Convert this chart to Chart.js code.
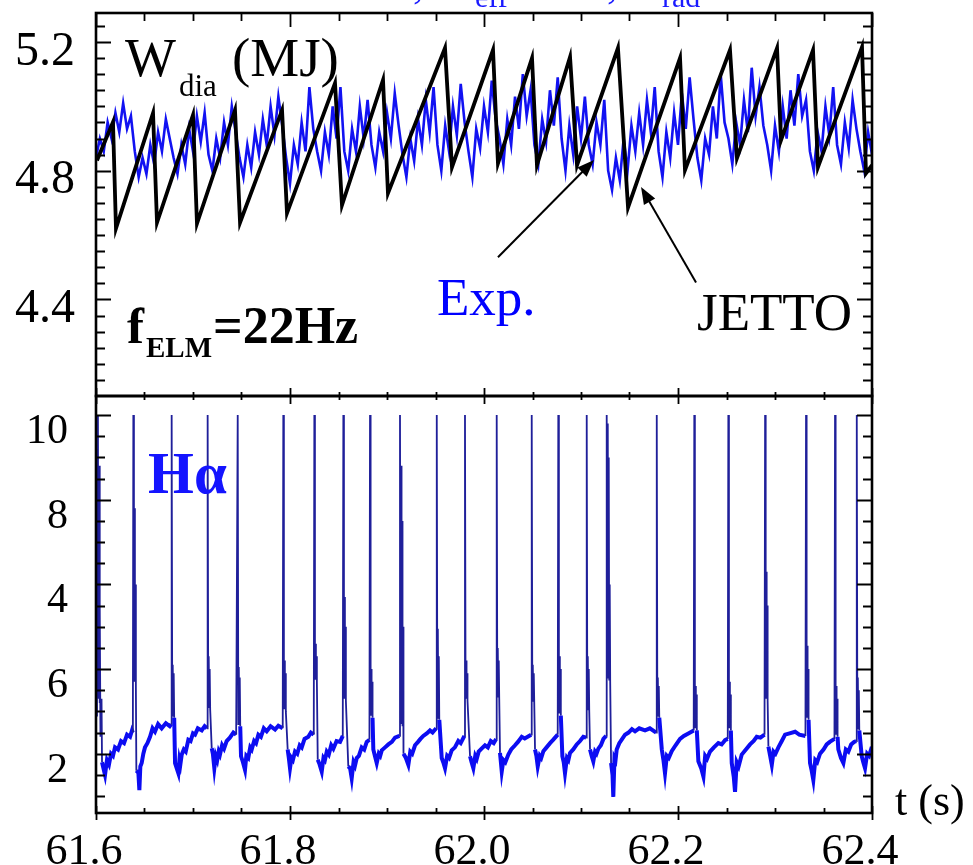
<!DOCTYPE html>
<html>
<head>
<meta charset="utf-8">
<script src="https://cdn.jsdelivr.net/npm/chart.js@4.4.1/dist/chart.umd.min.js"></script>
<style>
  html, body { margin: 0; padding: 0; background: #fff; }
  #wrap { position: relative; width: 973px; height: 865px; overflow: hidden; background: #fff; }
  #wrap canvas { position: absolute; left: 0; }
  #wdiaChart { top: 0; }
  #halphaChart { top: 380px; }
</style>
</head>
<body>
<div id="wrap">
  <canvas id="wdiaChart" width="973" height="410"></canvas>
  <canvas id="halphaChart" width="973" height="485"></canvas>
</div>
<script>
// JETTO diamagnetic energy: corners of the simulated ELM sawtooth (s, MJ)
const jettoTime = [61.6010, 61.6175, 61.6206, 61.6588, 61.6629, 61.7000, 61.7041, 61.7433, 61.7485,
  61.7918, 61.7969, 61.8464, 61.8536, 61.8959, 61.9010, 61.9598, 61.9670, 62.0093, 62.0144,
  62.0495, 62.0546, 62.0887, 62.0959, 62.1381, 62.1485, 62.2021, 62.2072, 62.2536, 62.2608,
  62.3021, 62.3062, 62.3392, 62.3443, 62.3897, 62.3938, 62.4000];
const jettoWdia = [4.832, 4.951, 4.621, 4.979, 4.639, 4.973, 4.636, 4.988, 4.639,
  4.988, 4.668, 5.072, 4.693, 5.082, 4.730, 5.181, 4.811, 5.175, 4.823,
  5.150, 4.817, 5.153, 4.817, 5.181, 4.686, 5.150, 4.802, 5.175, 4.839,
  5.181, 4.895, 5.175, 4.811, 5.184, 4.792, 4.817];

// measured W_dia, one sample every 4 ms from 61.600 s (MJ)
const expStart = 61.6;
const expStep = 0.004;
const expWdia = [
  4.84, 4.90, 4.86, 4.95, 4.90, 4.98, 4.92, 5.01, 4.93, 4.97,
  4.86, 4.78, 4.84, 4.79, 4.88, 4.82, 4.92, 4.86, 4.96, 4.90,
  4.84, 4.79, 4.88, 4.82, 4.93, 4.86, 4.97, 4.89, 4.98,
  4.85, 4.80, 4.90, 4.84, 4.95, 4.88, 5.00, 4.92,
  4.84, 4.78, 4.88, 4.81, 4.92, 4.85, 4.96, 4.88, 5.00, 4.91, 5.03, 4.94,
  4.84, 4.76, 4.88, 4.82, 4.95, 4.86, 5.06, 4.93,
  4.86, 4.80, 4.92, 4.85, 5.00, 4.90, 5.06,
  4.86, 4.80, 4.93, 4.86, 5.00, 4.90, 5.02,
  4.88, 4.81, 4.92, 4.86, 4.98, 4.90, 5.04, 4.94,
  4.85, 4.78, 4.90, 4.83, 4.96, 4.88, 5.02, 4.92, 5.06,
  4.88, 4.80, 4.94, 4.86, 5.00, 4.91, 5.07, 4.95,
  4.86, 4.78, 4.93, 4.87, 5.00, 4.92, 5.08, 4.96,
  4.90, 4.82, 4.96, 4.88, 5.03, 4.93, 5.10, 4.97, 5.05,
  4.88, 4.82, 4.96, 4.89, 5.05, 4.94, 5.09,
  4.90, 4.80, 4.94, 4.85, 5.00, 4.90, 5.03,
  4.88, 4.82, 4.95, 4.88, 5.02,
  4.80, 4.74, 4.84, 4.77, 4.90, 4.80, 4.94, 4.86, 4.98, 4.88, 5.02, 4.92, 5.06,
  4.86, 4.78, 4.92, 4.84, 4.98, 4.88, 5.04, 4.93, 5.09, 4.96,
  4.84, 4.77, 4.90, 4.85, 5.00, 4.90, 5.10, 4.95,
  4.90, 4.82, 4.95, 4.88, 5.02, 4.92, 5.12, 4.97, 5.06, 4.94,
  4.88, 4.80, 4.94, 4.86, 5.00, 4.90, 5.05, 4.94, 5.10, 4.97, 5.02,
  4.86, 4.80, 4.92, 4.86, 5.00, 4.91, 5.06,
  4.88, 4.82, 4.95, 4.87, 5.02, 4.93,
  4.86, 4.80, 4.92, 4.85
];

// H-alpha signal, [time (s), value], one row per ELM
const halphaTrace = [
  [61.6000,2.9],[61.6010,9.2],[61.6015,3.4],[61.6020,10],[61.6025,3.3],[61.6031,8.8],[61.6036,3.2],[61.6041,5.5],[61.6046,2.4],[61.6057,3.3],[61.6062,1.8],[61.6093,1.5],[61.6113,1.85],[61.6134,1.75],[61.6155,2.0],[61.6175,1.95],[61.6196,2.15],[61.6227,2.1],[61.6258,2.3],[61.6289,2.25],[61.6320,2.45],[61.6351,2.4],[61.6371,2.55],[61.6380,2.5],
  [61.6385,10],[61.6391,3.7],[61.6396,7.8],[61.6401,3.7],[61.6406,6.0],[61.6411,3.6],[61.6416,1.6],[61.6437,1.55],[61.6447,1.14],[61.6457,1.7],[61.6471,1.78],[61.6488,2.0],[61.6505,2.15],[61.6530,2.25],[61.6557,2.4],[61.6583,2.6],[61.6608,2.52],[61.6640,2.7],[61.6677,2.6],[61.6720,2.72],[61.6760,2.65],[61.6776,2.7],
  [61.6780,10],[61.6786,2.9],[61.6791,4.1],[61.6796,2.9],[61.6801,3.9],[61.6806,2.85],[61.6815,1.78],[61.6849,1.54],[61.6860,1.85],[61.6870,1.75],[61.6884,1.98],[61.6905,2.1],[61.6925,2.05],[61.6952,2.33],[61.6975,2.3],[61.7000,2.48],[61.7021,2.45],[61.7050,2.6],[61.7090,2.55],[61.7120,2.65],[61.7145,2.6],
  [61.7151,10],[61.7157,3.1],[61.7162,4.3],[61.7167,3.1],[61.7172,4.0],[61.7177,3.05],[61.7193,2.13],[61.7205,2.0],[61.7220,1.66],[61.7235,1.95],[61.7250,1.85],[61.7265,2.05],[61.7278,1.98],[61.7300,2.2],[61.7320,2.12],[61.7347,2.3],[61.7380,2.38],[61.7416,2.5],[61.7445,2.45],
  [61.7461,10],[61.7467,2.7],[61.7472,4.05],[61.7477,2.7],[61.7482,3.8],[61.7487,2.65],[61.7495,1.94],[61.7515,1.8],[61.7536,1.62],[61.7550,1.95],[61.7570,1.9],[61.7590,2.15],[61.7605,2.1],[61.7630,2.3],[61.7650,2.25],[61.7674,2.45],[61.7700,2.4],[61.7730,2.6],[61.7760,2.53],[61.7800,2.65],[61.7846,2.57],[61.7880,2.66],[61.7925,2.6],
  [61.7931,10],[61.7937,3.05],[61.7942,4.2],[61.7947,3.05],[61.7952,3.9],[61.7957,3.0],[61.7976,2.1],[61.7988,1.9],[61.8000,1.66],[61.8015,1.9],[61.8030,1.85],[61.8052,2.05],[61.8075,2.0],[61.8100,2.2],[61.8121,2.15],[61.8150,2.35],[61.8189,2.4],[61.8215,2.5],[61.8245,2.45],
  [61.8251,10],[61.8257,3.75],[61.8262,4.6],[61.8267,3.75],[61.8272,4.3],[61.8277,3.7],[61.8286,1.86],[61.8305,1.75],[61.8327,1.58],[61.8345,1.9],[61.8360,1.85],[61.8379,2.05],[61.8400,1.98],[61.8425,2.2],[61.8447,2.12],[61.8480,2.3],[61.8516,2.28],[61.8544,2.42],
  [61.8550,10],[61.8556,3.3],[61.8561,5.7],[61.8566,3.3],[61.8571,5.0],[61.8576,3.25],[61.8601,1.70],[61.8620,1.65],[61.8636,1.42],[61.8655,1.8],[61.8670,1.72],[61.8688,1.9],[61.8710,1.95],[61.8739,2.15],[61.8765,2.1],[61.8791,2.28],[61.8819,2.33],
  [61.8825,10],[61.8831,2.9],[61.8836,4.0],[61.8841,2.9],[61.8846,3.7],[61.8851,2.85],[61.8859,2.1],[61.8875,1.95],[61.8894,1.78],[61.8915,2.0],[61.8930,1.95],[61.8946,2.08],[61.8980,2.15],[61.9014,2.22],[61.9050,2.28],[61.9083,2.38],[61.9128,2.42],
  [61.9134,10],[61.9140,2.7],[61.9145,8.8],[61.9150,2.7],[61.9155,7.5],[61.9160,2.65],[61.9165,5.0],[61.9170,2.0],[61.9195,1.9],[61.9220,1.74],[61.9240,2.05],[61.9260,2.0],[61.9289,2.2],[61.9320,2.28],[61.9345,2.35],[61.9374,2.42],[61.9410,2.48],[61.9443,2.55],[61.9470,2.5],[61.9507,2.6],
  [61.9513,10],[61.9519,2.85],[61.9524,4.95],[61.9529,2.85],[61.9534,4.3],[61.9539,2.8],[61.9564,1.90],[61.9580,1.8],[61.9598,1.66],[61.9620,1.95],[61.9640,1.9],[61.9667,2.08],[61.9700,2.15],[61.9735,2.3],[61.9760,2.25],[61.9798,2.42],
  [61.9804,10],[61.9810,3.3],[61.9815,4.2],[61.9820,3.3],[61.9825,3.9],[61.9830,3.25],[61.9856,1.94],[61.9872,1.8],[61.9890,1.66],[61.9910,1.95],[61.9925,1.88],[61.9945,2.05],[61.9975,2.12],[62.0010,2.2],[62.0040,2.15],[62.0070,2.3],[62.0100,2.25],[62.0125,2.35],
  [62.0131,10],[62.0137,3.35],[62.0142,4.5],[62.0147,3.35],[62.0152,4.2],[62.0157,3.3],[62.0165,2.02],[62.0183,1.58],[62.0200,1.85],[62.0220,1.8],[62.0251,1.98],[62.0280,2.1],[62.0320,2.2],[62.0350,2.28],[62.0389,2.4],[62.0420,2.36],[62.0486,2.45],
  [62.0492,10],[62.0498,3.25],[62.0503,4.1],[62.0508,3.25],[62.0513,3.9],[62.0518,3.2],[62.0526,2.1],[62.0540,1.95],[62.0554,1.70],[62.0575,1.95],[62.0590,1.9],[62.0612,2.06],[62.0645,2.15],[62.0681,2.25],[62.0710,2.32],[62.0760,2.45],
  [62.0766,10],[62.0772,2.95],[62.0777,4.3],[62.0782,2.95],[62.0787,4.0],[62.0792,2.9],[62.0808,1.94],[62.0822,1.8],[62.0835,1.54],[62.0855,1.9],[62.0870,1.85],[62.0887,2.02],[62.0920,2.1],[62.0956,2.22],[62.0990,2.3],[62.1024,2.4],[62.1053,2.38],
  [62.1059,10],[62.1065,3.05],[62.1070,4.3],[62.1075,3.05],[62.1080,4.0],[62.1085,3.0],[62.1093,2.1],[62.1110,1.95],[62.1127,1.82],[62.1145,2.05],[62.1160,2.0],[62.1179,2.12],[62.1205,2.2],[62.1231,2.35],[62.1259,2.42],
  [62.1265,10],[62.1271,3.8],[62.1276,9.8],[62.1281,3.8],[62.1286,9.0],[62.1291,3.75],[62.1296,6.0],[62.1301,3.7],[62.1310,1.78],[62.1325,1.5],[62.1333,0.98],[62.1345,1.9],[62.1356,1.85],[62.1368,2.1],[62.1395,2.25],[62.1425,2.35],[62.1454,2.45],[62.1490,2.5],[62.1525,2.58],[62.1557,2.53],[62.1600,2.6],[62.1660,2.55],[62.1710,2.6],[62.1775,2.5],
  [62.1781,10],[62.1787,2.9],[62.1792,3.8],[62.1797,2.9],[62.1802,3.6],[62.1807,2.85],[62.1833,2.1],[62.1850,1.85],[62.1866,1.54],[62.1885,1.95],[62.1905,1.9],[62.1935,2.06],[62.1975,2.2],[62.2021,2.35],[62.2060,2.42],[62.2107,2.48],[62.2162,2.55],
  [62.2168,10],[62.2174,2.6],[62.2179,3.6],[62.2184,2.6],[62.2189,3.4],[62.2194,2.55],[62.2210,1.82],[62.2240,1.65],[62.2262,1.46],[62.2280,1.95],[62.2300,1.88],[62.2330,2.05],[62.2370,2.15],[62.2416,2.25],[62.2450,2.22],[62.2485,2.32],[62.2513,2.35],
  [62.2519,10],[62.2525,2.6],[62.2530,3.7],[62.2535,2.6],[62.2540,3.4],[62.2545,2.55],[62.2554,1.78],[62.2575,1.45],[62.2588,1.10],[62.2605,1.8],[62.2625,1.7],[62.2657,1.98],[62.2700,2.1],[62.2743,2.22],[62.2780,2.3],[62.2812,2.4],[62.2850,2.38],[62.2892,2.45],
  [62.2898,10],[62.2904,3.3],[62.2909,6.3],[62.2914,3.3],[62.2919,5.5],[62.2924,3.25],[62.2932,2.17],[62.2950,1.95],[62.2967,1.74],[62.2985,2.05],[62.3005,2.0],[62.3035,2.15],[62.3070,2.3],[62.3104,2.45],[62.3150,2.48],[62.3207,2.52],[62.3250,2.45],[62.3314,2.42],
  [62.3320,10],[62.3326,2.85],[62.3331,4.55],[62.3336,2.85],[62.3341,4.0],[62.3346,2.8],[62.3361,1.78],[62.3378,1.6],[62.3395,1.38],[62.3415,1.85],[62.3435,1.8],[62.3464,2.0],[62.3500,2.1],[62.3533,2.22],[62.3565,2.28],[62.3613,2.35],
  [62.3619,10],[62.3625,2.45],[62.3630,3.6],[62.3635,2.45],[62.3640,3.3],[62.3645,2.4],[62.3653,2.1],[62.3680,1.9],[62.3705,1.78],[62.3730,2.1],[62.3756,2.05],[62.3785,2.22],[62.3815,2.28],[62.3837,2.3],
  [62.3843,10],[62.3849,2.6],[62.3854,3.8],[62.3859,2.6],[62.3864,3.5],[62.3869,2.55],[62.3894,1.94],[62.3910,1.8],[62.3928,1.66],[62.3950,2.0],[62.3970,1.95],[62.3990,2.1],[62.4000,2.08]
];

const timeTicks = [61.6, 61.8, 62.0, 62.2, 62.4];
const wdiaTicks = [4.4, 4.8, 5.2];
const halphaTicks = [2, 4, 6, 8, 10];
const halphaTickText = ['2', '6', '4', '8', '10'];

const SERIF = "'Liberation Serif', 'DejaVu Serif', serif";
Chart.defaults.font.family = SERIF;
Chart.defaults.color = '#000';

function text(ctx, str, x, y, size, color, bold) {
  ctx.font = (bold ? 'bold ' : '') + size + 'px ' + SERIF;
  ctx.fillStyle = color;
  ctx.textAlign = 'left';
  ctx.textBaseline = 'alphabetic';
  ctx.fillText(str, x, y);
}

function arrow(ctx, x0, y0, x1, y1) {
  const ang = Math.atan2(y1 - y0, x1 - x0);
  const head = 17, half = 6.5;
  ctx.beginPath();
  ctx.moveTo(x0, y0);
  ctx.lineTo(x1 - Math.cos(ang) * head * 0.8, y1 - Math.sin(ang) * head * 0.8);
  ctx.stroke();
  ctx.beginPath();
  ctx.moveTo(x1, y1);
  ctx.lineTo(x1 - Math.cos(ang) * head + Math.sin(ang) * half, y1 - Math.sin(ang) * head - Math.cos(ang) * half);
  ctx.lineTo(x1 - Math.cos(ang) * head - Math.sin(ang) * half, y1 - Math.sin(ang) * head + Math.cos(ang) * half);
  ctx.closePath();
  ctx.fill();
}

// box round the plot area with inward ticks on every side
const framePlugin = {
  id: 'frame',
  afterDatasetsDraw(chart, args, o) {
    const { ctx, chartArea: a } = chart;
    const xs = chart.scales.x, ys = chart.scales.y;
    ctx.save();
    ctx.strokeStyle = '#000';
    ctx.lineWidth = 1.8;
    ctx.beginPath();
    for (let k = 0; k < o.yCount; k++) {
      const v = o.yFrom + k * o.yStep;
      const py = Math.round(ys.getPixelForValue(v)) + 0.5;
      const len = o.isMajor(v) ? 15 : 9;
      ctx.moveTo(a.left, py); ctx.lineTo(a.left + len, py);
      ctx.moveTo(a.right, py); ctx.lineTo(a.right - len, py);
    }
    for (let k = 0; k <= 16; k++) {
      const px = Math.round(xs.getPixelForValue(61.6 + k * 0.05)) + 0.5;
      const major = k % 4 === 0;
      if (o.topTicks) {
        ctx.moveTo(px, a.top); ctx.lineTo(px, a.top + (major ? 14 : 8));
      }
      const up = major ? o.bottomMajor[0] : o.bottomMinor[0];
      const down = major ? o.bottomMajor[1] : o.bottomMinor[1];
      ctx.moveTo(px, a.bottom - up); ctx.lineTo(px, a.bottom + down);
    }
    ctx.stroke();
    ctx.lineWidth = 2.6;
    ctx.strokeRect(a.left, a.top, a.right - a.left, a.bottom - a.top);
    ctx.restore();
  }
};

const wdiaNotes = {
  id: 'wdiaNotes',
  afterDraw(chart) {
    const ctx = chart.ctx;
    ctx.save();
    // clipped line of the caption above the figure
    text(ctx, ',', 413, -2, 44, '#1a1aff');
    text(ctx, 'eff', 475, 7, 30, '#1a1aff');
    text(ctx, ',', 607, -2, 44, '#1a1aff');
    text(ctx, 'rad', 662, 7, 30, '#1a1aff');

    text(ctx, 'W', 125, 76, 54, '#000');
    text(ctx, 'dia', 179, 96, 31, '#000');
    text(ctx, '(MJ)', 232, 76, 55, '#000');

    text(ctx, 'f', 127, 343, 51, '#000', true);
    text(ctx, 'ELM', 146, 357, 29, '#000', true);
    text(ctx, '=22Hz', 213, 343, 52, '#000', true);

    text(ctx, 'Exp.', 437, 315, 53, '#0000ff');
    text(ctx, 'JETTO', 697, 330, 53, '#000');

    const xs = chart.scales.x, ys = chart.scales.y;
    ctx.strokeStyle = '#000';
    ctx.fillStyle = '#000';
    ctx.lineWidth = 2;
    arrow(ctx, xs.getPixelForValue(62.0144), ys.getPixelForValue(4.531),
      xs.getPixelForValue(62.1134), ys.getPixelForValue(4.833));
    arrow(ctx, xs.getPixelForValue(62.2186), ys.getPixelForValue(4.453),
      xs.getPixelForValue(62.1619), ys.getPixelForValue(4.749));
    ctx.restore();
  }
};

const halphaNotes = {
  id: 'halphaNotes',
  afterDraw(chart) {
    const ctx = chart.ctx;
    ctx.save();
    text(ctx, 'H\u03b1', 148, 113, 59, '#1414ff', true);
    text(ctx, 't (s)', 895, 435, 44, '#000');
    ctx.restore();
  }
};

const noGrid = { display: false, drawTicks: false };

new Chart(document.getElementById('wdiaChart'), {
  type: 'line',
  data: {
    datasets: [
      {
        label: 'JETTO',
        data: jettoTime.map((t, i) => ({ x: t, y: jettoWdia[i] })),
        borderColor: '#000',
        borderWidth: 3.8,
        pointRadius: 0,
        order: 0
      },
      {
        label: 'Exp.',
        data: expWdia.map((w, i) => ({ x: expStart + i * expStep, y: w })),
        borderColor: '#1212f2',
        borderWidth: 2.6,
        pointRadius: 0,
        order: 1
      }
    ]
  },
  options: {
    responsive: false,
    animation: false,
    devicePixelRatio: 1,
    layout: { padding: { top: 13, right: 101, bottom: 14, left: 0 } },
    plugins: {
      legend: { display: false },
      tooltip: { enabled: false },
      frame: {
        yFrom: 4.15, yStep: 0.05, yCount: 23,
        isMajor: v => Math.abs(v / 0.4 - Math.round(v / 0.4)) < 1e-6,
        topTicks: true,
        bottomMajor: [8, 8], bottomMinor: [4, 4]
      }
    },
    scales: {
      x: { type: 'linear', min: 61.6, max: 62.4, display: false },
      y: {
        type: 'linear', min: 4.1, max: 5.29,
        grid: noGrid, border: { display: false },
        afterBuildTicks: s => { s.ticks = wdiaTicks.map(v => ({ value: v })); },
        afterFit: s => { s.width = 96; s.paddingTop = 0; s.paddingBottom = 0; },
        ticks: {
          font: { size: 48 }, color: '#000', padding: 21, labelOffset: 10,
          callback: v => v.toFixed(1)
        }
      }
    }
  },
  plugins: [framePlugin, wdiaNotes]
});

new Chart(document.getElementById('halphaChart'), {
  type: 'line',
  data: {
    datasets: [{
      label: 'H\u03b1',
      data: halphaTrace.map(p => ({ x: p[0], y: p[1] })),
      borderColor: '#1f1f9a',
      borderWidth: 1.8,
      pointRadius: 0,
      segment: {
        borderWidth: c => (c.p0.parsed.y < 3 && c.p1.parsed.y < 3 ? 4 : 1.8),
        borderColor: c => (c.p0.parsed.y < 3 && c.p1.parsed.y < 3 ? '#0c0cf2' : '#1f1f9a')
      }
    }]
  },
  options: {
    responsive: false,
    animation: false,
    devicePixelRatio: 1,
    layout: { padding: { top: 16, right: 101, bottom: 0, left: 0 } },
    plugins: {
      legend: { display: false },
      tooltip: { enabled: false },
      frame: {
        yFrom: 1.0, yStep: 0.5, yCount: 19,
        isMajor: v => Math.abs(v / 2 - Math.round(v / 2)) < 1e-6,
        topTicks: false,
        bottomMajor: [7, 7], bottomMinor: [5, 0]
      }
    },
    scales: {
      x: {
        type: 'linear', min: 61.6, max: 62.4,
        grid: noGrid, border: { display: false },
        afterBuildTicks: s => { s.ticks = timeTicks.map(v => ({ value: v })); },
        afterFit: s => { s.height = 52; s.paddingLeft = 0; s.paddingRight = 0; },
        ticks: {
          font: { size: 44 }, color: '#000', padding: 13, labelOffset: -12,
          maxRotation: 0, autoSkip: false,
          callback: v => v.toFixed(1)
        }
      },
      y: {
        type: 'linear', min: 0.6, max: 10.45,
        grid: noGrid, border: { display: false },
        afterBuildTicks: s => { s.ticks = halphaTicks.map(v => ({ value: v })); },
        afterFit: s => { s.width = 96; s.paddingTop = 0; s.paddingBottom = 0; },
        ticks: {
          font: { size: 42 }, color: '#000', padding: 28, labelOffset: 17,
          callback: (v, i) => halphaTickText[i]
        }
      }
    }
  },
  plugins: [framePlugin, halphaNotes]
});
</script>
</body>
</html>
